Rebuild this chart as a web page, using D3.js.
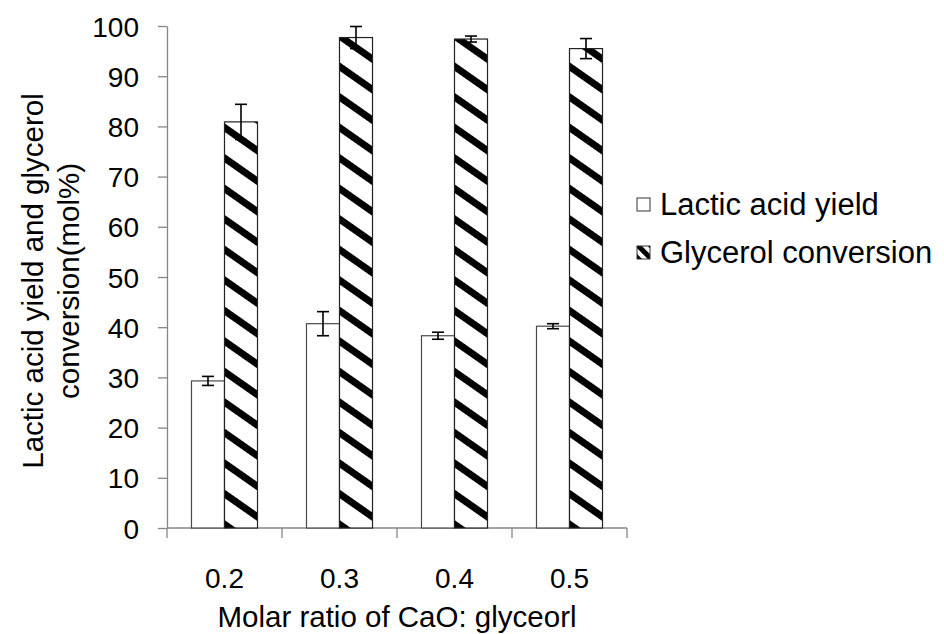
<!DOCTYPE html>
<html>
<head>
<meta charset="utf-8">
<script src="https://cdn.jsdelivr.net/npm/d3@7"></script>
<style>
  body { margin: 0; background: #fff; }
  text { font-family: "Liberation Sans", Arial, sans-serif; fill: #000; }
</style>
</head>
<body>
<div id="main"></div>
<script>
// values
var categories = ["0.2", "0.3", "0.4", "0.5"];
var lacticYield = [29.3, 40.7, 38.3, 40.2];
var lacticErr = [0.9, 2.4, 0.7, 0.5];
var glycerolConv = [80.9, 97.7, 97.4, 95.5];
var glycerolErr = [3.5, 2.2, 0.6, 2.0];
var seriesNames = ["Lactic acid yield", "Glycerol conversion"];
var yTicks = [0, 10, 20, 30, 40, 50, 60, 70, 80, 90, 100];

var width = 944, height = 634;
var plot = { left: 167, right: 627, top: 26, bottom: 528 };
var axisColor = "#868686";

var svg = d3.select("#main")
    .append("svg")
    .attr("width", width)
    .attr("height", height);

// hatch patterns
var defs = svg.append("defs");
var hatch = defs.append("pattern")
    .attr("id", "hatch")
    .attr("patternUnits", "userSpaceOnUse")
    .attr("width", 25)
    .attr("height", 25)
    .attr("patternTransform", "rotate(-55)");
hatch.append("rect").attr("width", 25).attr("height", 25).attr("fill", "#fff");
hatch.append("rect").attr("x", 0).attr("width", 7).attr("height", 25).attr("fill", "#000");

var hatchSmall = defs.append("pattern")
    .attr("id", "hatchSmall")
    .attr("patternUnits", "userSpaceOnUse")
    .attr("width", 9)
    .attr("height", 9)
    .attr("patternTransform", "translate(637,198) rotate(-45)");
hatchSmall.append("rect").attr("width", 9).attr("height", 9).attr("fill", "#fff");
hatchSmall.append("rect").attr("x", 3).attr("width", 5).attr("height", 9).attr("fill", "#000");

// scales
var x = d3.scaleBand()
    .domain(categories)
    .range([plot.left, plot.right])
    .padding(0);

var xSeries = d3.scaleBand()
    .domain([0, 1])
    .range([0, x.bandwidth()])
    .paddingInner(0)
    .paddingOuter(0.742);

var y = d3.scaleLinear()
    .domain([0, 100])
    .range([plot.bottom, plot.top]);

// y axis
var yAxis = svg.append("g")
    .attr("transform", "translate(" + plot.left + ",0)")
    .call(d3.axisLeft(y).tickValues(yTicks).tickSize(9).tickPadding(19).tickSizeOuter(0));
yAxis.select(".domain").attr("stroke", axisColor).attr("stroke-width", 1.3);
yAxis.selectAll(".tick line").attr("stroke", axisColor).attr("stroke-width", 1.3);
yAxis.selectAll(".tick text")
    .style("font-size", "28px")
    .attr("dy", "0.36em");

// x axis: line at zero with ticks on category boundaries
var xAxis = svg.append("g").attr("class", "x-axis");
xAxis.append("line")
    .attr("x1", plot.left).attr("x2", plot.right)
    .attr("y1", y(0)).attr("y2", y(0))
    .attr("stroke", axisColor).attr("stroke-width", 1.3);
var bounds = categories.map(function (c) { return x(c); }).concat([x(categories[categories.length - 1]) + x.bandwidth()]);
xAxis.selectAll(".xtick")
    .data(bounds)
    .enter().append("line")
    .attr("class", "xtick")
    .attr("x1", function (d) { return d; })
    .attr("x2", function (d) { return d; })
    .attr("y1", y(0))
    .attr("y2", y(0) + 10)
    .attr("stroke", axisColor).attr("stroke-width", 1.3);
xAxis.selectAll(".xlabel")
    .data(categories)
    .enter().append("text")
    .attr("class", "xlabel")
    .attr("x", function (d) { return x(d) + x.bandwidth() / 2; })
    .attr("y", 588)
    .attr("text-anchor", "middle")
    .style("font-size", "28px")
    .text(function (d) { return d; });

// bars
var groups = svg.selectAll(".group")
    .data(categories)
    .enter().append("g")
    .attr("class", "group")
    .attr("transform", function (d) { return "translate(" + x(d) + ",0)"; });

var barData = function (d, i) {
    return [
        { s: 0, v: lacticYield[i], e: lacticErr[i] },
        { s: 1, v: glycerolConv[i], e: glycerolErr[i] }
    ];
};

groups.selectAll("rect")
    .data(barData)
    .enter().append("rect")
    .attr("x", function (d) { return xSeries(d.s); })
    .attr("y", function (d) { return y(d.v); })
    .attr("width", xSeries.bandwidth())
    .attr("height", function (d) { return y(0) - y(d.v); })
    .attr("fill", function (d) { return d.s === 0 ? "#fff" : "url(#hatch)"; })
    .attr("stroke", function (d) { return d.s === 0 ? "#4a4a4a" : "#222"; })
    .attr("stroke-width", 1.2);

// error bars
var err = groups.selectAll(".err")
    .data(barData)
    .enter().append("g")
    .attr("class", "err")
    .attr("stroke", "#000")
    .attr("stroke-width", 1.6);
err.append("line")
    .attr("x1", function (d) { return xSeries(d.s) + xSeries.bandwidth() / 2; })
    .attr("x2", function (d) { return xSeries(d.s) + xSeries.bandwidth() / 2; })
    .attr("y1", function (d) { return y(d.v + d.e); })
    .attr("y2", function (d) { return y(d.v - d.e); });
[1, -1].forEach(function (sign) {
    err.append("line")
        .attr("x1", function (d) { return xSeries(d.s) + xSeries.bandwidth() / 2 - 6; })
        .attr("x2", function (d) { return xSeries(d.s) + xSeries.bandwidth() / 2 + 6; })
        .attr("y1", function (d) { return y(d.v + sign * d.e); })
        .attr("y2", function (d) { return y(d.v + sign * d.e); });
});

// axis titles
svg.append("text")
    .attr("x", (plot.left + plot.right) / 2)
    .attr("y", 627)
    .attr("text-anchor", "middle")
    .style("font-size", "29.5px")
    .text("Molar ratio of CaO: glyceorl");

var yTitle = svg.append("text")
    .attr("transform", "translate(0," + ((plot.top + plot.bottom) / 2 + 4) + ") rotate(-90)")
    .attr("text-anchor", "middle")
    .style("font-size", "29.5px");
yTitle.append("tspan").attr("x", 0).attr("y", 43).text("Lactic acid yield and glycerol");
yTitle.append("tspan").attr("x", 0).attr("y", 79).text("conversion(mol%)");

// legend
var legend = svg.selectAll(".legend")
    .data(seriesNames)
    .enter().append("g")
    .attr("class", "legend")
    .attr("transform", function (d, i) { return "translate(637," + (198 + i * 48) + ")"; });
legend.append("rect")
    .attr("width", 13)
    .attr("height", 13)
    .attr("fill", function (d, i) { return i === 0 ? "#fff" : "url(#hatchSmall)"; })
    .attr("stroke", "#333")
    .attr("stroke-width", 1);
legend.append("text")
    .attr("x", 23)
    .attr("y", 17)
    .style("font-size", "31px")
    .text(function (d) { return d; });
</script>
</body>
</html>
